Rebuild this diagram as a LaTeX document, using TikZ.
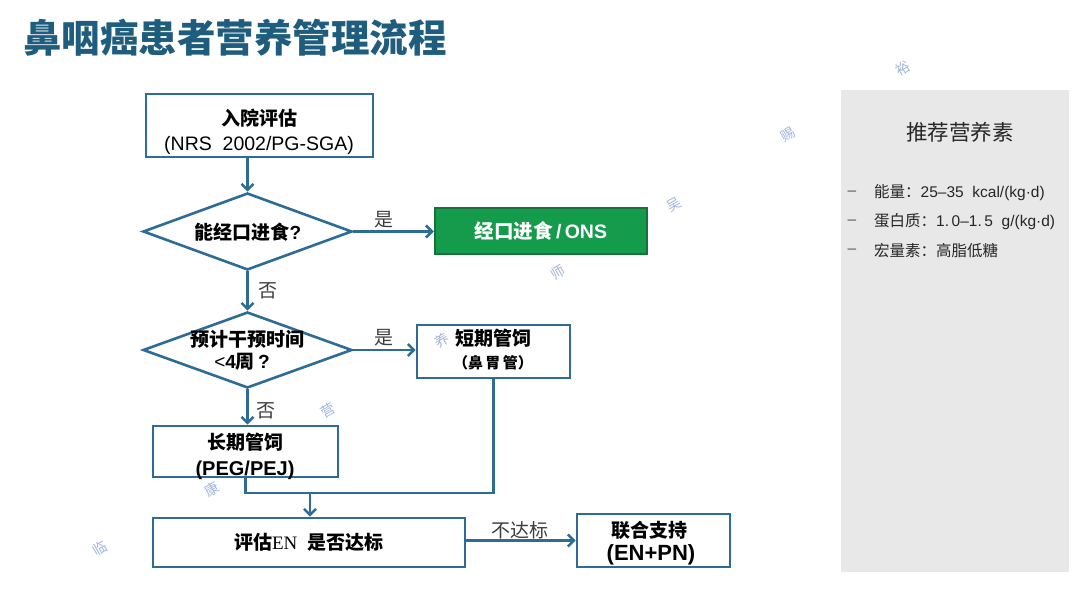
\documentclass[tikz,border=0pt]{standalone}
\usepackage{fontspec}
\setmainfont{Liberation Sans}
\newfontfamily\zh{Noto Sans CJK SC}
\newfontfamily\enserif{Liberation Serif}
\usetikzlibrary{arrows.meta,shapes.geometric}

\definecolor{titleblue}{RGB}{30,93,125}
\definecolor{lineblue}{RGB}{45,108,150}
\definecolor{okgreen}{RGB}{20,155,75}
\definecolor{okgreendark}{RGB}{25,112,58}
\definecolor{panelgray}{RGB}{232,232,232}
\definecolor{labelgray}{RGB}{60,60,60}
\definecolor{wmblue}{RGB}{120,150,205}

\begin{document}
\begin{tikzpicture}[x=1pt,y=-1pt,
  flowbox/.style={draw=lineblue, line width=2.6pt, fill=white, inner sep=0pt},
  decision/.style={diamond, draw=lineblue, line width=2.6pt, fill=white, inner sep=0pt},
  txt/.style={inner sep=0pt, text=black},
  arr/.style={draw=lineblue, line width=2.6pt, -{Straight Barb[length=6pt,width=12pt]}},
  conn/.style={draw=lineblue, line width=2.6pt},
  lbl/.style={font=\zh\fontsize{19}{19}\selectfont, text=labelgray, inner sep=0pt},
  item/.style={anchor=west, inner sep=0pt, font=\fontsize{15.5}{15.5}\selectfont, text=black!85},
  dashmark/.style={inner sep=0pt, font=\fontsize{15.5}{15.5}\selectfont, text=black!65},
  wm/.style={font=\zh\fontsize{14}{14}\selectfont, text=wmblue, opacity=0.7, rotate=30, inner sep=0pt},
]
\useasboundingbox (0,0) rectangle (1080,591);

% title
\node[anchor=west, inner sep=0pt, font=\zh\bfseries\fontsize{38.5}{38.5}\selectfont, text=titleblue] (title) at (23,38) {鼻咽癌患者营养管理流程};

% right panel
\node[fill=panelgray, minimum width=228pt, minimum height=482pt, inner sep=0pt] (panel) at (955,331) {};
\node[inner sep=0pt, font=\zh\fontsize{21.5}{21.5}\selectfont, text=black!85] (ptitle) at (960,132) {推荐营养素};
\node[dashmark] (m1) at (852,193) {–};
\node[dashmark] (m2) at (852,222) {–};
\node[dashmark] (m3) at (852,251) {–};
\node[item] (i1) at (874,193) {{\zh 能量：}25–35\ \ kcal/(kg·d)};
\node[item] (i2) at (874,222) {{\zh 蛋白质：}1.\,0–1.\,5\ \ g/(kg·d)};
\node[item] (i3) at (874,251) {{\zh 宏量素：高脂低糖}};

% flow nodes
\node[flowbox, minimum width=227pt, minimum height=63pt] (b1) at (259.5,125.5) {};
\node[txt, font=\zh\bfseries\fontsize{19}{19}\selectfont] (b1a) at (259,118) {入院评估};
\node[txt, font=\fontsize{19.5}{19.5}\selectfont] (b1b) at (259,145) {(NRS\ \ 2002/PG-SGA)};

\node[decision, minimum width=209pt, minimum height=77pt] (d1) at (247.5,231.5) {};
\node[txt, font=\fontsize{19}{19}\selectfont] (d1t) at (248,232) {{\zh\bfseries 能经口进食}{\bfseries ?}};

\node[draw=okgreendark, fill=okgreen, line width=2.4pt, minimum width=212pt, minimum height=46pt, inner sep=0pt, text=white, font=\fontsize{19.5}{19.5}\selectfont\bfseries] (oral) at (541,231) {{\zh 经口进食}\,/\,ONS};

\node[decision, minimum width=209pt, minimum height=76pt] (d2) at (247.5,350) {};
\node[txt, font=\zh\bfseries\fontsize{19}{19}\selectfont] (d2a) at (247,339) {预计干预时间};
\node[txt, font=\fontsize{19}{19}\selectfont] (d2b) at (242,362) {{<}{\bfseries 4}{\zh\bfseries 周}\,{\bfseries ?}};

\node[flowbox, minimum width=153pt, minimum height=53pt] (short) at (493.5,351.5) {};
\node[txt, font=\zh\bfseries\fontsize{19}{19}\selectfont] (sa) at (493,338) {短期管饲};
\node[txt, font=\zh\bfseries\fontsize{15}{15}\selectfont] (sb) at (493,363) {（鼻\,胃\,管）};

\node[flowbox, minimum width=185pt, minimum height=51pt] (long) at (245.5,451.5) {};
\node[txt, font=\zh\bfseries\fontsize{19}{19}\selectfont] (la) at (245,442) {长期管饲};
\node[txt, font=\bfseries\fontsize{20}{20}\selectfont] (lb) at (245,470) {(PEG/PEJ)};

\node[flowbox, minimum width=312pt, minimum height=49pt, font=\fontsize{19}{19}\selectfont] (ev) at (309,542.5) {{\zh\bfseries 评估}{\enserif EN}\ \ {\zh\bfseries 是否达标}};

\node[flowbox, minimum width=153pt, minimum height=53pt] (comb) at (653.5,540.5) {};
\node[txt, font=\zh\bfseries\fontsize{19}{19}\selectfont] (ca) at (649,530) {联合支持};
\node[txt, font=\bfseries\fontsize{22}{22}\selectfont] (cb) at (651,555) {(EN+PN)};

\coordinate (j) at (310,493);

% connectors
\draw[arr] (b1.south -| d1.north) -- (d1.north);
\draw[arr] (d1.east) -- (oral.west |- d1.east);
\draw[arr] (d1.south) -- (d2.north);
\draw[arr] (d2.east) -- (short.west |- d2.east);
\draw[arr] (d2.south) -- (d2.south |- long.north);
\draw[conn] (long.south) |- (short.south |- j) -- (short.south);
\draw[arr] (j) -- (j |- ev.north);
\draw[arr] (ev.east |- comb.west) -- (comb.west);

% labels
\node[lbl] (y1) at (384,220) {是};
\node[lbl] (n1) at (268,291) {否};
\node[lbl] (y2) at (384,338) {是};
\node[lbl] (n2) at (266,411) {否};
\node[lbl] (nq) at (520,530) {不达标};

% watermark
\node[wm] (w1) at (903,68) {裕};
\node[wm] (w2) at (788,135) {赐};
\node[wm] (w3) at (674,205) {吴};
\node[wm] (w4) at (558,272) {师};
\node[wm] (w5) at (442,340) {养};
\node[wm] (w6) at (328,410) {营};
\node[wm] (w7) at (212,489) {康};
\node[wm] (w8) at (100,548) {临};
\end{tikzpicture}
\end{document}
